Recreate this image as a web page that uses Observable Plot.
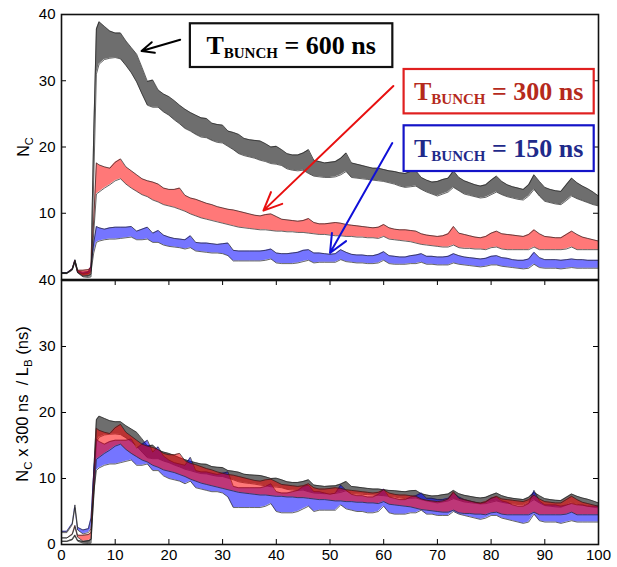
<!DOCTYPE html>
<html><head><meta charset="utf-8">
<script src="https://cdn.jsdelivr.net/npm/d3@7"></script>
<script src="https://cdn.jsdelivr.net/npm/@observablehq/plot@0.6"></script>
<style>
body{margin:0;background:#fff;}
#chart svg{display:block;}
</style>
</head><body><div id="chart"></div>
<script>
// ---- data (top panel: N_C for each bunch spacing) ----
const X = [0,1,2,2.5,3,4,5,5.5,6,6.5,
 7,8,9,10,11,12,13,14,15,16,17,18,19,20,21,22,23,24,25,26,27,28,29,30,31,32,33,34,35,36,
 37,38,39,40,41,42,43,44,45,46,47,48,49,50,51,52,53,54,55,56,57,58,59,60,61,62,63,64,65,66,
 67,68,69,70,71,72,73,74,75,76,77,78,79,80,81,82,83,84,85,86,87,88,89,90,91,92,93,94,95,96,97,98,99,100];

const G600_HI = [1.0,1.0,1.6,2.9,1.3,0.9,1.1,1.5,22,37.8,
 38.9,38.2,37.5,37.2,37.2,36.0,35.0,34.0,32.0,29.9,
 30.1,28.6,28.0,27.6,27.0,26.3,25.7,25.2,24.8,24.4,
 24.3,23.6,23.4,23.3,22.4,22.2,21.9,21.3,21.1,21.0,
 20.9,20.5,20.0,20.1,19.6,19.0,18.8,18.8,19.1,19.6,
 18.0,17.8,17.6,17.7,17.8,18.3,19.1,17.6,17.4,17.2,
 17.0,16.8,16.8,16.6,16.4,16.3,16.1,16.0,16.3,16.4,
 15.4,15.0,14.7,14.8,15.1,15.3,16.4,15.4,14.9,14.6,
 14.3,14.1,14.3,15.0,15.6,14.8,14.3,14.0,13.8,13.6,
 14.3,15.8,14.8,13.9,13.6,13.4,13.3,14.3,15.3,14.6,
 14.1,13.7,13.2,12.6];
const G600_LO = [0.9,0.9,1.4,2.6,1.0,0.4,0.3,0.4,15,31.0,
 32.5,33.2,33.4,33.5,33.3,32.3,31.2,29.8,28.0,26.3,
 26.0,26.0,25.3,24.8,24.1,23.5,22.8,22.4,21.9,21.5,
 21.4,21.0,20.7,20.6,20.1,19.6,19.0,18.7,18.5,18.3,
 18.0,17.8,17.5,17.4,17.2,16.7,16.5,16.4,16.5,16.0,
 15.6,15.5,15.4,15.4,15.5,15.8,16.3,15.4,15.3,15.2,
 15.1,15.0,14.9,14.8,14.6,14.4,14.1,13.9,14.0,14.1,
 13.6,13.2,12.9,12.6,12.9,13.2,13.9,13.4,12.9,12.7,
 12.5,12.3,12.4,12.8,13.2,12.8,12.5,12.3,12.1,12.0,
 12.6,13.6,12.6,11.8,11.6,11.4,11.3,11.9,12.6,12.2,
 11.9,11.6,11.3,11.1];
const R300_HI = [1.0,1.0,1.6,2.9,1.4,1.4,1.5,1.8,9.0,17.6,
 17.3,17.0,16.8,17.7,18.2,17.0,16.4,15.8,15.2,14.9,
 14.7,14.4,13.8,13.6,13.6,13.8,12.7,12.3,12.1,11.8,
 11.5,11.3,11.0,10.8,10.6,10.5,10.3,10.1,9.9,9.7,
 9.6,9.8,9.9,9.5,9.1,9.0,8.9,8.8,8.9,9.2,
 8.6,8.4,8.4,8.5,8.6,8.5,8.3,8.2,8.1,8.0,
 7.9,7.8,7.9,8.3,7.8,7.6,7.5,7.5,7.4,7.3,
 6.9,6.7,6.6,6.5,6.6,6.9,8.0,7.0,6.8,6.6,
 6.4,6.3,6.5,7.0,7.3,6.9,6.8,6.7,6.6,6.5,
 6.8,7.5,6.9,6.5,6.4,6.3,6.3,6.8,7.3,6.8,
 6.4,6.2,6.0,5.8];
const R300_LO = [1.0,1.0,1.5,2.7,1.1,0.5,0.6,0.8,7.0,12.9,
 13.2,13.8,14.3,14.9,15.2,14.4,13.8,13.3,12.8,12.5,
 12.0,11.7,11.3,11.1,10.9,10.6,10.3,9.9,9.6,9.3,
 9.1,8.9,8.7,8.5,8.3,8.1,7.9,7.8,7.7,7.6,
 7.5,7.5,7.4,7.3,7.3,7.2,7.2,7.1,7.1,7.0,
 6.9,6.8,6.8,6.7,6.6,6.6,6.5,6.5,6.4,6.4,
 6.3,6.3,6.2,6.5,6.1,6.0,5.9,5.8,5.7,5.5,
 5.3,5.2,5.1,5.0,4.9,4.9,5.2,4.8,4.7,4.7,
 4.6,4.6,4.5,4.8,4.9,4.6,4.5,4.5,4.5,4.5,
 4.5,4.9,4.5,4.5,4.5,4.5,4.5,4.6,4.9,4.5,
 4.5,4.5,4.5,4.5];
const B150_HI = [1.0,1.0,1.6,3.0,1.3,1.1,1.2,2.0,5.5,8.0,
 7.8,7.6,7.8,7.9,7.9,7.9,8.0,7.3,7.6,7.9,
 7.0,7.4,6.7,6.4,6.2,6.1,6.0,6.6,5.6,5.5,
 5.5,5.4,5.3,5.4,5.5,4.4,4.3,4.3,4.3,4.3,
 4.3,4.4,4.6,4.0,3.9,3.9,4.0,4.1,4.4,4.5,
 4.0,4.0,3.9,3.8,3.9,4.5,4.1,3.8,3.7,3.7,
 3.6,3.6,3.8,4.2,3.6,3.5,3.4,3.4,3.6,3.7,
 3.9,3.5,3.5,3.4,3.4,3.5,3.9,3.6,3.4,3.3,
 3.2,3.1,3.2,3.5,3.6,3.3,3.2,3.0,2.9,2.9,
 3.1,4.1,3.3,3.0,3.0,3.0,2.9,3.0,3.1,3.0,
 3.0,2.9,2.9,2.9];
const B150_LO = [0.9,0.9,1.5,2.8,1.1,0.8,0.9,1.2,4.0,5.6,
 5.8,6.0,6.1,6.1,6.2,6.3,6.4,6.0,6.0,6.1,
 5.6,5.6,5.2,5.0,4.9,4.8,4.6,4.8,4.3,4.2,
 4.1,4.0,4.0,3.9,3.6,2.8,2.8,2.8,2.8,2.8,
 2.8,2.9,3.1,2.5,2.4,2.4,2.4,2.5,2.7,2.9,
 2.5,2.6,2.6,2.6,2.6,3.0,2.7,2.6,2.5,2.5,
 2.4,2.4,2.5,2.9,2.4,2.3,2.3,2.3,2.4,2.4,
 2.6,2.3,2.3,2.2,2.2,2.2,2.5,2.3,2.2,2.1,
 2.0,1.9,2.0,2.2,2.2,2.0,1.9,1.8,1.7,1.6,
 1.7,2.3,1.8,1.7,1.7,1.7,1.6,1.7,1.8,1.7,
 1.7,1.7,1.7,1.7];

const X_TICKS = [0,10,20,30,40,50,60,70,80,90,100];
const Y_TICKS_TOP = [10,20,30,40];
const Y_TICKS_BOTTOM = [0,10,20,30,40];
const T_BUNCH = [600,300,150];
const REF_NS = 300;

// ---- styling / layout ----
const W = 617, ML = 61, MR = 19;
const PW = W - ML - MR;
const FONT = "Liberation Sans, Arial, sans-serif";
const SERIF = "Liberation Serif, Times New Roman, Times, serif";

const bands = [
  {T:600, lo:G600_LO, hi:G600_HI, fill:"#6e6e6e", op:1},
  {T:150, lo:B150_LO, hi:B150_HI, fill:"#0000ff", op:0.54},
  {T:300, lo:R300_LO, hi:R300_HI, fill:"#ff0000", op:0.53}
];
const rowsOf = (b, k) => X.map((x,i) => ({x, lo:b.lo[i]*k, hi:b.hi[i]*k}));

function bandMarks(scaled){
  const out = [];
  for (const b of bands){
    const k = scaled ? REF_NS / b.T : 1;
    const rows = rowsOf(b, k);
    out.push(Plot.areaY(rows, {x:"x", y1:"lo", y2:"hi", fill:b.fill, fillOpacity:b.op}));
    out.push(Plot.line(rows, {x:"x", y:"lo", stroke:"#1c1c1c", strokeWidth:0.8, strokeOpacity:0.85}));
    out.push(Plot.line(rows, {x:"x", y:"hi", stroke:"#1c1c1c", strokeWidth:0.8, strokeOpacity:0.85}));
  }
  return out;
}

// annotations (data coordinates of the top panel)
const BOXES = [
  {x1:24.0, x2:61.7, y1:38.6, y2:32.0, stroke:"#111", color:"#000", label:"600"},
  {x1:63.8, x2:99.2, y1:31.7, y2:25.0, stroke:"#e02020", color:"#b52a1c", label:"300"},
  {x1:63.8, x2:99.2, y1:23.2, y2:16.3, stroke:"#1414c8", color:"#1f2a8a", label:"150"}
];
const ARROWS = [
  {x1:22.1, y1:36.2, x2:14.9, y2:34.5, c:"#000"},
  {x1:61.8, y1:29.2, x2:37.6, y2:10.4, c:"#e81010"},
  {x1:61.6, y1:20.6, x2:50.0, y2:4.0, c:"#1010d8"}
];

const TOP_H = 279, BOT_H = 288;

const topChart = Plot.plot({
  width: W, height: TOP_H, marginLeft: ML, marginRight: MR, marginTop: 14, marginBottom: 0,
  x: {domain:[0,100], axis:null},
  y: {domain:[0,40], axis:null},
  style: {fontFamily: FONT, fontSize:"15px", color:"#000", background:"#fff", overflow:"visible"},
  marks: [
    ...bandMarks(false),
    Plot.tickY(Y_TICKS_TOP, {y:d=>d, insetRight: PW-5, stroke:"#000"}),
    Plot.tickY(Y_TICKS_TOP, {y:d=>d, insetLeft: PW-5, stroke:"#000"}),
    Plot.axisY(Y_TICKS_TOP, {anchor:"left", tickSize:0, tickPadding:6, fontSize:15, label:null}),
    Plot.frame({stroke:"#111", strokeWidth:1.6}),
    ...ARROWS.map(a => Plot.arrow([a], {x1:"x1", y1:"y1", x2:"x2", y2:"y2", stroke:a.c, strokeWidth:2, headLength:15, headAngle:48})),
    ...BOXES.map(b => Plot.rect([b], {x1:"x1", x2:"x2", y1:"y1", y2:"y2", fill:"#fff", stroke:b.stroke, strokeWidth:2.2}))
  ]
});

const botPH = BOT_H - 1 - 23;
const botChart = Plot.plot({
  width: W, height: BOT_H, marginLeft: ML, marginRight: MR, marginTop: 1, marginBottom: 23,
  x: {domain:[0,100], axis:null},
  y: {domain:[0,40], axis:null},
  style: {fontFamily: FONT, fontSize:"15px", color:"#000", background:"#fff", overflow:"visible"},
  marks: [
    ...bandMarks(true),
    Plot.tickY(Y_TICKS_BOTTOM, {y:d=>d, insetRight: PW-5, stroke:"#000"}),
    Plot.tickY(Y_TICKS_BOTTOM, {y:d=>d, insetLeft: PW-5, stroke:"#000"}),
    Plot.tickX(X_TICKS, {x:d=>d, insetTop: botPH-5, stroke:"#000"}),
    Plot.tickX(X_TICKS, {x:d=>d, insetBottom: botPH-5, stroke:"#000"}),
    Plot.axisY(Y_TICKS_BOTTOM, {anchor:"left", tickSize:0, tickPadding:6, fontSize:15, label:null}),
    Plot.axisX(X_TICKS, {anchor:"bottom", tickSize:0, tickPadding:5, fontSize:15, label:null}),
    Plot.frame({stroke:"#111", strokeWidth:1.6})
  ]
});

const root = document.getElementById("chart");
root.appendChild(topChart);
root.appendChild(botChart);

// ---- text overlays with subscripts ----
function addText(svg, x, y, family, weight, size, fill, rotate){
  return d3.select(svg).append("text")
    .style("font-family", family).style("font-weight", weight)
    .style("font-size", size + "px").style("fill", fill)
    .style("white-space", "pre")
    .attr("text-anchor", "middle")
    .attr("transform", rotate ? `translate(${x},${y}) rotate(-90)` : `translate(${x},${y})`);
}
function piece(t, s, size, dy){
  const ts = t.append("tspan").text(s).style("font-size", size + "px");
  if (dy) ts.attr("dy", dy);
  return ts;
}

const sx = topChart.scale("x"), sy = topChart.scale("y");
BOXES.forEach(b => {
  const cx = (sx.apply(b.x1) + sx.apply(b.x2)) / 2;
  const cy = (sy.apply(b.y1) + sy.apply(b.y2)) / 2;
  const t = addText(topChart, cx, cy + 9, SERIF, "bold", 26, b.color, false);
  piece(t, "T", 26, 0);
  piece(t, "BUNCH", 15, 4);
  piece(t, ` = ${b.label} ns`, 26, -4);
});

const nc = addText(topChart, 29, 147, FONT, "normal", 16, "#000", true);
piece(nc, "N", 16, 0);
piece(nc, "C", 11, 4);

const lab = addText(botChart, 28, 125, FONT, "normal", 16.5, "#000", true);
piece(lab, "N", 16.5, 0);
piece(lab, "C", 11.5, 4);
piece(lab, " x 300 ns  / L", 16.5, -4);
piece(lab, "B", 11.5, 4);
piece(lab, " (ns)", 16.5, -4);
</script></body></html>
